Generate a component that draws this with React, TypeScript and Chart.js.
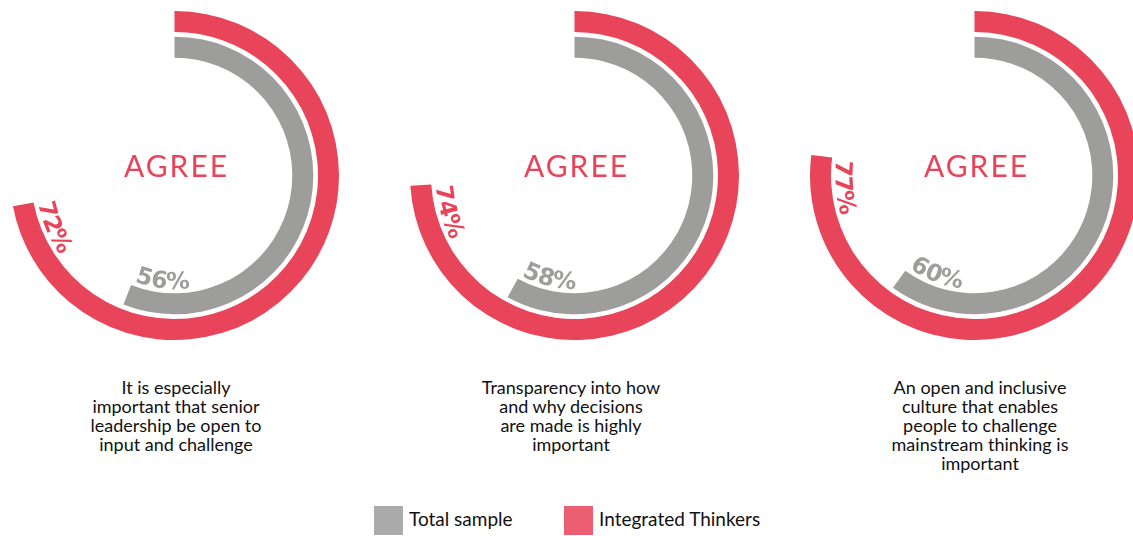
import React, { useEffect, useRef } from "react";
import { Chart, registerables } from "chart.js";

Chart.register(...registerables);

// ---------- data ----------
const CAPTIONS: string[][] = [
  ["It is especially", "important that senior", "leadership be open to", "input and challenge"],
  ["Transparency into how", "and why decisions", "are made is highly", "important"],
  ["An open and inclusive", "culture that enables", "people to challenge", "mainstream thinking is", "important"],
];
const TOTAL_SAMPLE = [56, 58, 60];
const INTEGRATED_THINKERS = [72, 74, 77];
const SERIES_NAMES = ["Total sample", "Integrated Thinkers"];
const CENTER_LABEL = "AGREE";

// ---------- style ----------
const RED = "#E8445A";
const GRAY = "#9D9D9C";
const LEG_RED = "#EC5E72";
const LEG_GRAY = "#ABABAB";
const TRANSPARENT = "rgba(0,0,0,0)";
const CHART_CX = [174.5, 574.5, 974.5];
const CAPTION_CX = [176, 571, 980];
const CY = 175.5;
const CANVAS = 341;
const OUTER_R = 164.5;
const INNER_R = 117.8;

const arcLabelPlugin = {
  id: "arcLabels",
  afterDatasetsDraw(chart: any) {
    const ctx: CanvasRenderingContext2D = chart.ctx;
    let cx = 0;
    let cy = 0;
    chart.data.datasets.forEach((ds: any, i: number) => {
      const meta = chart.getDatasetMeta(i);
      const arc = meta.data[0];
      if (!arc) return;
      const p = arc.getProps(["x", "y", "endAngle", "innerRadius"], true);
      cx = p.x;
      cy = p.y;
      if (!ds.arcLabel) return;
      ctx.save();
      ctx.font = 'bold 23.5px "DejaVu Sans"';
      ctx.fillStyle = ds.labelColor;
      ctx.textAlign = "center";
      ctx.textBaseline = "alphabetic";
      const r = p.innerRadius - 4.5;
      let a = p.endAngle - 2 / r;
      for (const ch of ds.arcLabel as string) {
        const w = ctx.measureText(ch).width;
        const ca = a - w / 2 / r;
        ctx.save();
        ctx.translate(p.x, p.y);
        ctx.rotate(ca - Math.PI / 2);
        ctx.fillText(ch, 0, r);
        ctx.restore();
        a -= w / r;
      }
      ctx.restore();
    });
    ctx.save();
    ctx.font = "30px Lato";
    ctx.fillStyle = RED;
    ctx.textAlign = "center";
    ctx.textBaseline = "alphabetic";
    (ctx as any).letterSpacing = "2px";
    ctx.fillText(CENTER_LABEL, cx + 2, cy + 1.5);
    ctx.restore();
  },
};

function Ring({ index }: { index: number }) {
  const ref = useRef<HTMLCanvasElement | null>(null);
  useEffect(() => {
    if (!ref.current) return;
    const it = INTEGRATED_THINKERS[index];
    const ts = TOTAL_SAMPLE[index];
    const chart = new Chart(ref.current, {
      type: "doughnut",
      data: {
        labels: ["Agree", "Other"],
        datasets: [
          {
            label: SERIES_NAMES[1],
            data: [it, 100 - it],
            backgroundColor: [RED, TRANSPARENT],
            borderWidth: 0,
            weight: 21,
            arcLabel: `${it}%`,
            labelColor: RED,
          } as any,
          {
            label: "gap",
            data: [100],
            backgroundColor: [TRANSPARENT],
            borderWidth: 0,
            weight: 4.7,
          } as any,
          {
            label: SERIES_NAMES[0],
            data: [ts, 100 - ts],
            backgroundColor: [GRAY, TRANSPARENT],
            borderWidth: 0,
            weight: 21,
            arcLabel: `${ts}%`,
            labelColor: GRAY,
          } as any,
        ],
      },
      options: {
        animation: false,
        responsive: false,
        devicePixelRatio: 1,
        events: [],
        radius: OUTER_R,
        cutout: `${(INNER_R / OUTER_R) * 100}%`,
        layout: { padding: 0 },
        plugins: { legend: { display: false }, tooltip: { enabled: false } },
      } as any,
      plugins: [arcLabelPlugin],
    });
    return () => chart.destroy();
  }, [index]);
  return (
    <canvas
      ref={ref}
      width={CANVAS}
      height={CANVAS}
      style={{
        position: "absolute",
        left: CHART_CX[index] - CANVAS / 2,
        top: CY - CANVAS / 2,
        width: CANVAS,
        height: CANVAS,
      }}
    />
  );
}

export default function App() {
  return (
    <div
      style={{
        position: "absolute",
        left: 0,
        top: 0,
        width: 1133,
        height: 536,
        overflow: "hidden",
        background: "#fff",
        fontFamily: "Lato, sans-serif",
      }}
    >
      {CAPTIONS.map((_, i) => (
        <Ring key={`r${i}`} index={i} />
      ))}
      {CAPTIONS.map((lines, i) => (
        <div
          key={`c${i}`}
          style={{
            position: "absolute",
            left: CAPTION_CX[i] - 130,
            top: 377.5,
            width: 260,
            textAlign: "center",
            fontSize: 18,
            fontWeight: 400,
            lineHeight: "19px",
            color: "#111",
          }}
        >
          {lines.map((l, j) => (
            <div key={j}>{l}</div>
          ))}
        </div>
      ))}
      {[
        { name: SERIES_NAMES[0], color: LEG_GRAY, x: 374 },
        { name: SERIES_NAMES[1], color: LEG_RED, x: 564 },
      ].map((l) => (
        <React.Fragment key={l.name}>
          <div
            style={{
              position: "absolute",
              left: l.x,
              top: 506,
              width: 29,
              height: 28.5,
              background: l.color,
            }}
          />
          <div
            style={{
              position: "absolute",
              left: l.x + 35,
              top: 508,
              fontSize: 19,
              fontWeight: 400,
              lineHeight: "22px",
              color: "#111",
              whiteSpace: "nowrap",
            }}
          >
            {l.name}
          </div>
        </React.Fragment>
      ))}
    </div>
  );
}
